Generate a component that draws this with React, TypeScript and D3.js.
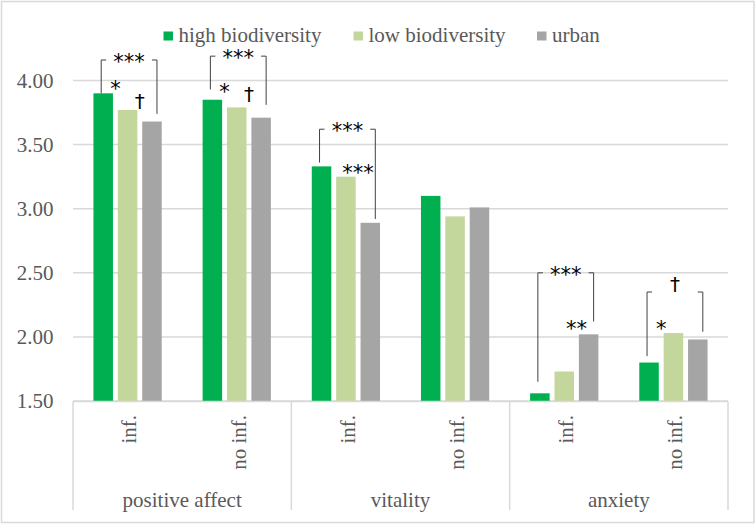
import React from 'react';
import * as d3 from 'd3';

const series = ['high biodiversity', 'low biodiversity', 'urban'];
const seriesColors = ['#00B050', '#C3D69B', '#A5A5A5'];
const categories = ['inf.', 'no inf.', 'inf.', 'no inf.', 'inf.', 'no inf.'];
const groups = ['positive affect', 'vitality', 'anxiety'];
const highBio = [3.90, 3.85, 3.33, 3.10, 1.56, 1.80];
const lowBio = [3.77, 3.79, 3.25, 2.94, 1.73, 2.03];
const urban = [3.68, 3.71, 2.89, 3.01, 2.02, 1.98];
const yTicks = [1.5, 2.0, 2.5, 3.0, 3.5, 4.0];

const bracketCat = [0, 1, 2, 4, 5];
const bracketLabels = ['***', '***', '***', '***', '†'];
const bracketLevel = [4.16, 4.19, 3.62, 2.50, 2.35];
const bracketLeftEnd = [3.90, 3.93, 3.36, 1.65, 1.85];
const bracketRightEnd = [3.74, 3.81, 2.92, 2.12, 2.04];

const markCat = [0, 0, 1, 1, 2, 4, 5];
const markPair = [0, 1, 0, 1, 1, 1, 0];
const markLabels = ['*', '†', '*', '†', '***', '**', '*'];
const markLevel = [3.94, 3.78, 3.92, 3.83, 3.29, 2.07, 2.07];

const W = 756;
const H = 524;
const FONT = '"Liberation Serif", "Liberation Sans", Arial, sans-serif';
const MARK_FONT = '"DejaVu Sans", sans-serif';
const FS = 21;
const MFS = 21;
const TEXT = '#595959';
const GRID = '#D9D9D9';

export default function App() {
  const plotLeft = 73;
  const plotRight = 728;
  const yScale = d3.scaleLinear().domain([1.5, 4.0]).range([401, 80.5]);
  const x = d3.scaleBand<number>().domain(d3.range(categories.length)).range([plotLeft, plotRight]).padding(0);
  const clusterW = x.bandwidth() * 0.67;
  const inner = d3.scaleBand<number>().domain([0, 1, 2]).range([0, clusterW]).paddingInner(0.2).paddingOuter(0.1);
  const off = (x.bandwidth() - clusterW) / 2;
  const barX = (c: number, s: number) => (x(c) as number) + off + (inner(s) as number);
  const barC = (c: number, s: number) => barX(c, s) + inner.bandwidth() / 2;
  const values = [highBio, lowBio, urban];
  const groupW = x.bandwidth() * 2;

  // baseline so that the glyph ink bottom sits at bottomY
  const glyphBaseline = (label: string, bottomY: number) =>
    label.includes('*') ? bottomY + MFS * 0.39 : bottomY - 1;
  const markSize = (label: string) => (label.includes('*') ? MFS : 20);

  const legendX = [163.5, 353.5, 537];
  const txt: React.CSSProperties = { fontFamily: FONT };
  const mtxt: React.CSSProperties = { fontFamily: MARK_FONT };

  return (
    <svg width={W} height={H} style={{ position: 'absolute', left: 0, top: 0, background: '#fff', fontFamily: FONT }}>
      <rect x={0} y={0} width={W} height={H} fill="#fff" />
      <rect x={1.5} y={1.5} width={W - 3.5} height={H - 3} fill="none" stroke={GRID} strokeWidth={1.5} />

      {yTicks.map((t) => (
        <line key={'g' + t} x1={plotLeft} x2={plotRight} y1={yScale(t)} y2={yScale(t)} stroke={GRID} strokeWidth={1.5} />
      ))}
      {yTicks.map((t) => (
        <text key={'t' + t} style={txt} x={53.5} y={yScale(t)} dy="0.35em" textAnchor="end" fontSize={FS} fill={TEXT}>
          {d3.format('.2f')(t)}
        </text>
      ))}

      {values.map((vals, s) =>
        vals.map((v, c) => (
          <rect
            key={`b${s}-${c}`}
            x={barX(c, s)}
            y={yScale(v)}
            width={inner.bandwidth()}
            height={yScale(1.5) - yScale(v)}
            fill={seriesColors[s]}
          />
        ))
      )}

      <line x1={plotLeft} x2={plotRight} y1={401.5} y2={401.5} stroke={GRID} strokeWidth={1.5} />
      {d3.range(groups.length + 1).map((g) => {
        const gx = plotLeft + g * groupW;
        return <line key={'v' + g} x1={gx} x2={gx} y1={401.5} y2={510} stroke={GRID} strokeWidth={1.5} />;
      })}
      {categories.map((cat, c) => {
        const cx = (x(c) as number) + x.bandwidth() / 2;
        return (
          <text key={'c' + c} style={txt} transform={`translate(${cx},415) rotate(-90)`} textAnchor="end" dy="0.42em" fontSize={FS} fill={TEXT}>
            {cat}
          </text>
        );
      })}
      {groups.map((g, i) => (
        <text key={'gr' + i} style={txt} x={plotLeft + groupW * (i + 0.5)} y={506.5} textAnchor="middle" fontSize={FS} fill={TEXT}>
          {g}
        </text>
      ))}

      {bracketCat.map((c, i) => {
        const lx = barC(c, 0) - 2;
        const rx = barC(c, 2) + 5;
        const ty = yScale(bracketLevel[i]);
        const lab = bracketLabels[i];
        return (
          <g key={'br' + i}>
            <path
              d={`M${lx},${yScale(bracketLeftEnd[i])}V${ty}H${lx + 5}M${rx - 5},${ty}H${rx}V${yScale(bracketRightEnd[i])}`}
              fill="none"
              stroke="#404040"
              strokeWidth={1}
            />
            <text style={mtxt} x={(lx + rx) / 2} y={glyphBaseline(lab, ty + (lab.includes('*') ? 1 : 0))} textAnchor="middle" fontSize={markSize(lab)} fill="#000">
              {lab}
            </text>
          </g>
        );
      })}

      {markCat.map((c, i) => {
        const s = markPair[i];
        const mx = (barC(c, s) + barC(c, s + 1)) / 2;
        const lab = markLabels[i];
        return (
          <text key={'m' + i} style={mtxt} x={mx} y={glyphBaseline(lab, yScale(markLevel[i]))} textAnchor="middle" fontSize={markSize(lab)} fill="#000">
            {lab}
          </text>
        );
      })}

      {series.map((s, i) => (
        <g key={'l' + i}>
          <rect x={legendX[i]} y={31.5} width={9.5} height={9} fill={seriesColors[i]} />
          <text style={txt} x={legendX[i] + 15} y={42} fontSize={FS} fill={TEXT}>
            {s}
          </text>
        </g>
      ))}
    </svg>
  );
}
